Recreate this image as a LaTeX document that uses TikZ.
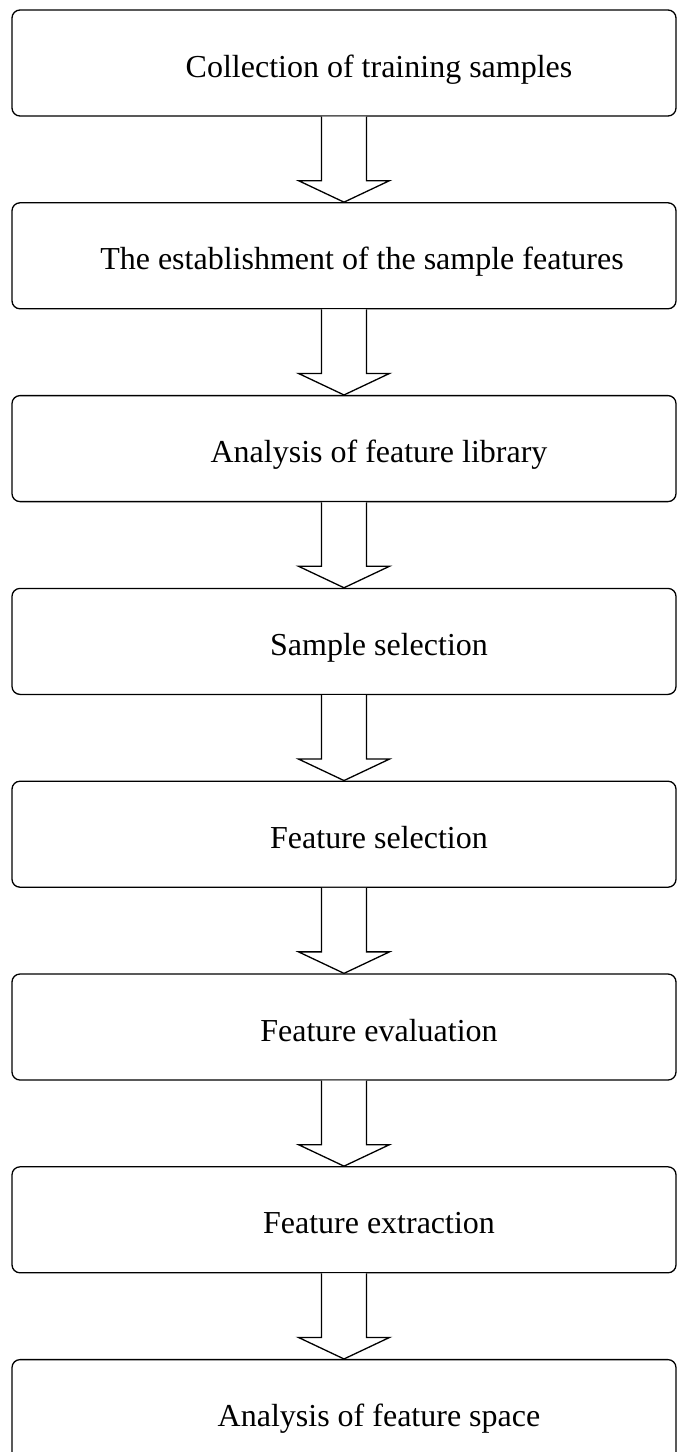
\documentclass[tikz,border=0pt]{standalone}
\usepackage{fontspec}
\setmainfont{Liberation Serif}
\usepackage{tikz}
\usetikzlibrary{%
  positioning,%
  calc%
}
\tikzset{
  stage/.style={draw,rounded corners=8pt,line width=1.3pt,
    minimum width=664pt,minimum height=106pt,inner sep=0pt,
    text height=28pt,text depth=0pt,
    font=\fontsize{32}{38}\selectfont,
    execute at begin node={\hspace*{#1}}},
  stage/.default=70pt,
  blockarr/.style={draw,line width=1.3pt,fill=white}
}
% hollow block arrow from bottom of #1 to top of #2
\newcommand{\flowarrow}[2]{%
  \draw[blockarr] ($(#1.south)+(-22.5,0)$) -- ($(#1.south)+(-22.5,-64)$)
    -- ($(#1.south)+(-45.5,-64)$) -- (#2.north) -- ($(#1.south)+(45.5,-64)$)
    -- ($(#1.south)+(22.5,-64)$) -- ($(#1.south)+(22.5,0)$);}

\begin{document}
\begin{tikzpicture}[x=1pt,y=1pt,node distance=85.5pt]
\useasboundingbox (0,0) rectangle (677,-1452);
\clip (0,0) rectangle (677,-1452);
\node[stage] (collect) at (344,-63) {Collection of training samples};
\node[stage=36pt,below=of collect] (establish) {The establishment of the sample features};
\node[stage,below=of establish] (library) {Analysis of feature library};
\node[stage,below=of library] (samplesel) {Sample selection};
\node[stage,below=of samplesel] (featsel) {Feature selection};
\node[stage,below=of featsel] (evaluate) {Feature evaluation};
\node[stage,below=of evaluate] (extract) {Feature extraction};
\node[stage,below=of extract] (space) {Analysis of feature space};

\flowarrow{collect}{establish}
\flowarrow{establish}{library}
\flowarrow{library}{samplesel}
\flowarrow{samplesel}{featsel}
\flowarrow{featsel}{evaluate}
\flowarrow{evaluate}{extract}
\flowarrow{extract}{space}
\end{tikzpicture}
\end{document}
